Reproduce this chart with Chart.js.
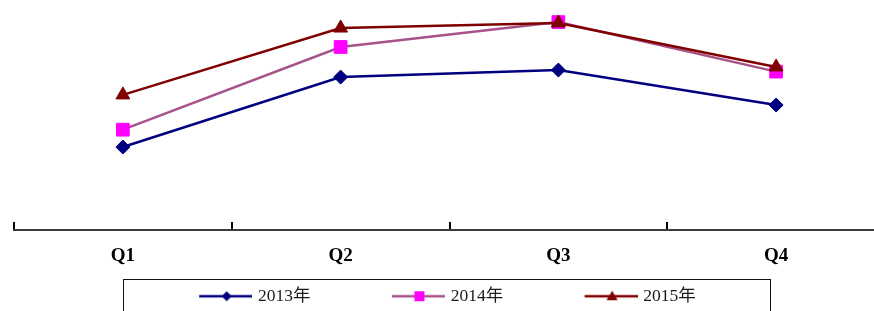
<!DOCTYPE html>
<html>
<head>
<meta charset="utf-8">
<script src="https://cdn.jsdelivr.net/npm/chart.js@4.4.1/dist/chart.umd.min.js"></script>
<style>
  html, body { margin: 0; padding: 0; background: #fff; overflow: hidden; }
  #wrap { position: relative; width: 874px; height: 311px; overflow: hidden; }
  #chart { position: absolute; left: -60px; top: 0; }
</style>
</head>
<body>
<div id="wrap"><canvas id="chart" width="960" height="315"></canvas></div>
<script>
// Data (no visible value axis, 0..100 units)
const quarters = ["Q1", "Q2", "Q3", "Q4"];
const seriesNames = ["2013年", "2014年", "2015年"];
const values2013 = [37.7, 69.5, 72.7, 56.8];
const values2014 = [45.6, 83.2, 94.5, 72.0];
const values2015 = [61.4, 91.8, 94.1, 74.1];

const serif = "'Liberation Serif', 'Times New Roman', 'Noto Sans CJK SC', serif";

// legend symbol size: reserved width, plus a little overhang on each side
const iconReserve = 119;
const iconOverhang = 3;
const iconLine = 53;

// legend icon: blank space on the left, then a short line with the marker in the middle
function makeIcon(lineColor, markColor, shape) {
  const c = document.createElement("canvas");
  c.width = iconReserve + 2 * iconOverhang;
  c.height = 14;
  const g = c.getContext("2d");
  const x0 = c.width - iconLine;
  g.strokeStyle = lineColor;
  g.lineWidth = 2.5;
  g.beginPath();
  g.moveTo(x0, 7);
  g.lineTo(c.width, 7);
  g.stroke();
  const cx = x0 + iconLine / 2 + 1, cy = 7;
  g.fillStyle = markColor;
  g.beginPath();
  if (shape === "diamond") {
    g.moveTo(cx, cy - 5);
    g.lineTo(cx + 5, cy);
    g.lineTo(cx, cy + 5);
    g.lineTo(cx - 5, cy);
  } else if (shape === "square") {
    g.rect(cx - 5, cy - 5, 10, 10);
  } else {
    g.moveTo(cx, cy - 5.5);
    g.lineTo(cx + 5.5, cy + 4);
    g.lineTo(cx - 5.5, cy + 4);
  }
  g.closePath();
  g.fill();
  return c;
}

const icons = [
  makeIcon("#000080", "#000080", "diamond"),
  makeIcon("#A8528A", "#FF00FF", "square"),
  makeIcon("#800000", "#800000", "triangle"),
];

// frame around the legend
const legendFrame = {
  id: "legendFrame",
  afterDraw(chart) {
    const boxes = chart.legend.legendHitBoxes;
    if (!boxes || !boxes.length) return;
    const first = boxes[0];
    const last = boxes[boxes.length - 1];
    const lineStart = first.left + iconReserve + iconOverhang - iconLine;
    const left = Math.round(lineStart - 76) + 0.5;
    const right = Math.round(last.left + last.width + 74) + 0.5;
    const top = Math.round(first.top - 9) + 0.5;
    const ctx = chart.ctx;
    ctx.save();
    ctx.strokeStyle = "#111";
    ctx.lineWidth = 1;
    ctx.strokeRect(left, top, right - left, 80);
    ctx.restore();
  },
};

new Chart(document.getElementById("chart").getContext("2d"), {
  type: "line",
  data: {
    labels: quarters,
    datasets: [
      {
        label: seriesNames[0],
        data: values2013,
        borderColor: "#000080",
        backgroundColor: "#000080",
        borderWidth: 2.5,
        pointStyle: "rectRot",
        pointRadius: 7,
        pointBorderWidth: 1,
        order: 0,
      },
      {
        label: seriesNames[1],
        data: values2014,
        borderColor: "#A8528A",
        backgroundColor: "#FF00FF",
        pointBorderColor: "#FF00FF",
        borderWidth: 2.5,
        pointStyle: "rect",
        pointRadius: 9,
        pointBorderWidth: 1,
        order: 0,
      },
      {
        label: seriesNames[2],
        data: values2015,
        borderColor: "#800000",
        backgroundColor: "#800000",
        borderWidth: 2.5,
        pointStyle: "triangle",
        pointRadius: 8,
        pointBorderWidth: 1,
        order: -1,
      },
    ],
  },
  options: {
    responsive: false,
    animation: false,
    events: [],
    layout: { padding: { top: 10, left: 1, right: 15, bottom: 0 } },
    plugins: {
      tooltip: { enabled: false },
      legend: {
        position: "bottom",
        labels: {
          usePointStyle: true,
          pointStyleWidth: iconReserve,
          padding: 12.5,
          color: "#1a1a1a",
          font: { family: serif, size: 17.5 },
          sort: (a, b) => a.datasetIndex - b.datasetIndex,
          generateLabels(chart) {
            const items = Chart.defaults.plugins.legend.labels.generateLabels(chart);
            items.forEach((it) => {
              it.pointStyle = icons[it.datasetIndex];
            });
            return items;
          },
        },
      },
    },
    scales: {
      x: {
        offset: true,
        grid: {
          offset: true,
          drawOnChartArea: false,
          drawTicks: true,
          tickLength: -8,
          color: "#000",
          lineWidth: 2,
        },
        border: { display: true, color: "#3a3a3a", width: 2 },
        ticks: {
          color: "#000",
          padding: 23,
          maxRotation: 0,
          font: { family: serif, size: 19, weight: "bold" },
        },
        afterFit: (scale) => {
          scale.height = 45;
        },
      },
      y: {
        min: 0,
        max: 100,
        grid: { display: false },
        border: { display: false },
        ticks: { display: false },
        afterFit: (scale) => {
          scale.width = 73;
        },
      },
    },
  },
  plugins: [legendFrame],
});
</script>
</body>
</html>
